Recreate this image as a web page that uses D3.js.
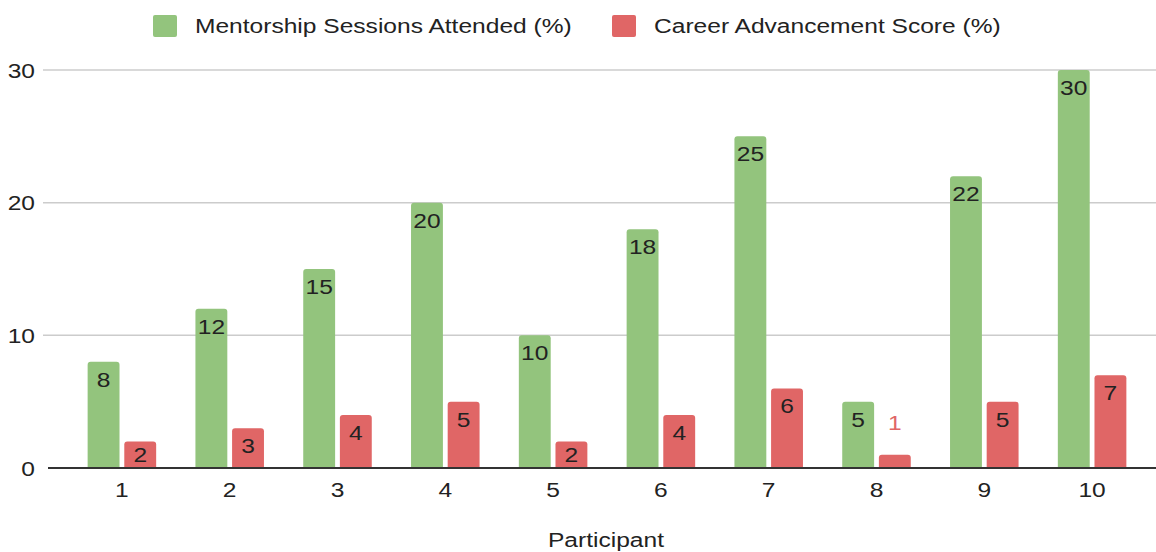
<!DOCTYPE html>
<html>
<head>
<meta charset="utf-8">
<script src="https://cdn.jsdelivr.net/npm/d3@7"></script>
<style>
  body { margin: 0; background: #fff; }
  text { font-family: "Liberation Sans", Arial, sans-serif; }
</style>
</head>
<body>
<div id="chart"></div>
<script>
const participants = ["1", "2", "3", "4", "5", "6", "7", "8", "9", "10"];
const mentorship = [8, 12, 15, 20, 10, 18, 25, 5, 22, 30];
const career = [2, 3, 4, 5, 2, 4, 6, 1, 5, 7];
const seriesNames = ["Mentorship Sessions Attended (%)", "Career Advancement Score (%)"];
const yTicks = [0, 10, 20, 30];

const width = 1156, height = 552;
const colors = ["#93c47d", "#e06666"];
const fontSize = 21, stretch = 1.17;   // the text in the picture is a bit wider than plain Arial

const svg = d3.select("#chart").append("svg")
    .attr("width", width)
    .attr("height", height);

// puts a text at (px, py) with the horizontal stretch
function stretchedText(g, px, py) {
    return g.append("text")
        .attr("transform", `translate(${px},${py}) scale(${stretch},1)`)
        .attr("font-size", fontSize)
        .attr("fill", "#222");
}

// scales
const x = d3.scaleBand()
    .domain(participants)
    .range([68, 1146]);

const y = d3.scaleLinear()
    .domain([0, 30])
    .range([468, 70]);

const xSub = d3.scaleBand()
    .domain([0, 1])
    .range([-35, 35])
    .paddingInner(0.13)
    .paddingOuter(0.02);

// gridlines
svg.append("g")
    .selectAll("line")
    .data(yTicks.filter(d => d > 0))
    .join("line")
    .attr("x1", 43)
    .attr("x2", width)
    .attr("y1", d => y(d))
    .attr("y2", d => y(d))
    .attr("stroke", "#cccccc")
    .attr("stroke-width", 1.5);

// y tick labels
const yLabels = svg.append("g");
yTicks.forEach(function(t){
    stretchedText(yLabels, 35, y(t) + 7.5)
        .attr("text-anchor", "end")
        .text(t);
});

// rounded-top bar path
function barPath(x0, w, top, bottom, r) {
    r = Math.min(r, (bottom - top), w / 2);
    return `M${x0},${bottom}V${top + r}Q${x0},${top} ${x0 + r},${top}H${x0 + w - r}Q${x0 + w},${top} ${x0 + w},${top + r}V${bottom}Z`;
}

const seriesData = [mentorship, career];
seriesData.forEach(function(values, s){
    const g = svg.append("g");
    const bw = xSub.bandwidth();
    g.selectAll("path")
        .data(values)
        .join("path")
        .attr("d", (d, i) => barPath(x(participants[i]) + x.bandwidth() / 2 + xSub(s), bw, y(d), y(0), 3))
        .attr("fill", colors[s]);

    // value labels: inside near top if they fit, otherwise above in series colour
    values.forEach(function(d, i){
        const cx = x(participants[i]) + x.bandwidth() / 2 + xSub(s) + bw / 2;
        const fits = y(0) - y(d) > 20;
        const ly = fits ? Math.min(y(d) + 25, y(0) - 6) : y(d) - 25;
        stretchedText(g, cx, ly)
            .attr("text-anchor", "middle")
            .attr("fill", fits ? "#222" : colors[s])
            .text(d);
    });
});

// baseline
svg.append("line")
    .attr("x1", 48)
    .attr("x2", width)
    .attr("y1", y(0))
    .attr("y2", y(0))
    .attr("stroke", "#333")
    .attr("stroke-width", 2);

// x axis labels
const xLabels = svg.append("g");
participants.forEach(function(p){
    stretchedText(xLabels, x(p) + x.bandwidth() / 2, 497)
        .attr("text-anchor", "middle")
        .text(p);
});

stretchedText(svg, 606, 547)
    .attr("text-anchor", "middle")
    .text("Participant");

// legend
const legendX = [153, 612];
seriesNames.forEach(function(name, i){
    svg.append("rect")
        .attr("x", legendX[i])
        .attr("y", 15)
        .attr("width", 24)
        .attr("height", 22)
        .attr("rx", 2)
        .attr("fill", colors[i]);
    stretchedText(svg, legendX[i] + 42, 33)
        .text(name);
});
</script>
</body>
</html>
